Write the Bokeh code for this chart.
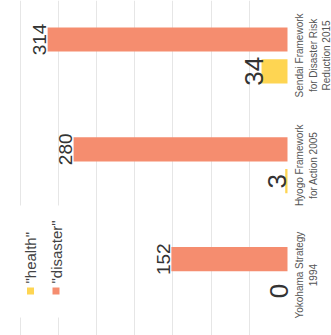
import math
from bokeh.plotting import figure
from bokeh.models import ColumnDataSource, Range1d, FixedTicker
from bokeh.core.properties import value
from bokeh.embed import file_html
from bokeh.resources import INLINE

# ---- data ----
categories = ["Yokohama Strategy\n1994", "Hyogo Framework\nfor Action 2005",
              "Sendai Framework\nfor Disaster Risk\nReduction 2015"]
health = [0, 3, 34]
disaster = [152, 280, 314]
series_names = ['"health"', '"disaster"']
grid_ticks = [50, 100, 150, 200, 250, 300, 350]

# ---- style / layout ----
W, H = 331, 335
X0, X1 = 375.7, -57.6          # reversed value axis (bars grow leftwards)
Y0, Y1 = -0.55, 2.5
PXU = W / (X0 - X1)
PYU = H / (Y1 - Y0)
C_DIS = "#f58d6f"
C_HEA = "#fed552"
TXT = "#333333"
FONT = value("Liberation Sans")
BAR_H = 0.22
DODGE = 0.145
ROT = math.pi / 2

idx = list(range(len(categories)))
src = ColumnDataSource(dict(
    idx=idx,
    y_h=[i - DODGE for i in idx],
    y_d=[i + DODGE for i in idx],
    health=health, disaster=disaster,
    lab_h=[str(v) for v in health], lab_d=[str(v) for v in disaster],
    cat=categories,
))

p = figure(width=W, height=H, output_backend="svg", toolbar_location=None,
           x_range=Range1d(X0, X1), y_range=Range1d(Y0, Y1), min_border=0)
p.outline_line_color = None
p.xaxis.visible = False
p.yaxis.visible = False
p.ygrid.visible = False
p.xgrid.ticker = FixedTicker(ticks=grid_ticks)
p.xgrid.grid_line_color = "#e6e6e6"
p.xgrid.grid_line_width = 1

p.hbar(y="y_d", left=0, right="disaster", height=BAR_H, source=src,
       fill_color=C_DIS, line_color=None)
p.hbar(y="y_h", left=0, right="health", height=BAR_H, source=src,
       fill_color=C_HEA, line_color=None)

p.text(x="disaster", y="y_d", text="lab_d", source=src, angle=ROT,
       text_align="center", text_baseline="alphabetic", x_offset=-8,
       text_font=FONT, text_font_size="19px", text_color=TXT)
p.text(x="health", y="y_h", text="lab_h", source=src, angle=ROT,
       text_align="center", text_baseline="alphabetic", x_offset=-8,
       text_font=FONT, text_font_size="26px", text_color=TXT)

# category labels beyond baseline
p.text(x=0, y="idx", text="cat", source=src, angle=ROT,
       text_align="center", text_baseline="top", x_offset=7,
       text_font=FONT, text_font_size="10px", text_color="#555555",
       text_line_height=1.2)

# legend (drawn rotated like the rest)
def dx(px):
    return X0 - px / PXU

def dy(py):
    return Y1 - py / PYU

p.rect(x=[dx(38)], y=[dy(261)], width=60, height=112, width_units="screen",
       height_units="screen", fill_color="white", line_color=None)
leg = ColumnDataSource(dict(x=[dx(30), dx(55.5)], y=[dy(290.5)] * 2,
                            c=[C_HEA, C_DIS], t=series_names))
p.rect(x="x", y="y", width=7, height=7, width_units="screen",
       height_units="screen", fill_color="c", line_color=None, source=leg)
p.text(x="x", y="y", text="t", source=leg, angle=ROT, text_align="left",
       text_baseline="middle", y_offset=-7.5, text_font=FONT,
       text_font_size="15px", text_color="#444444")

open("out.html", "w").write(file_html(p, INLINE))
